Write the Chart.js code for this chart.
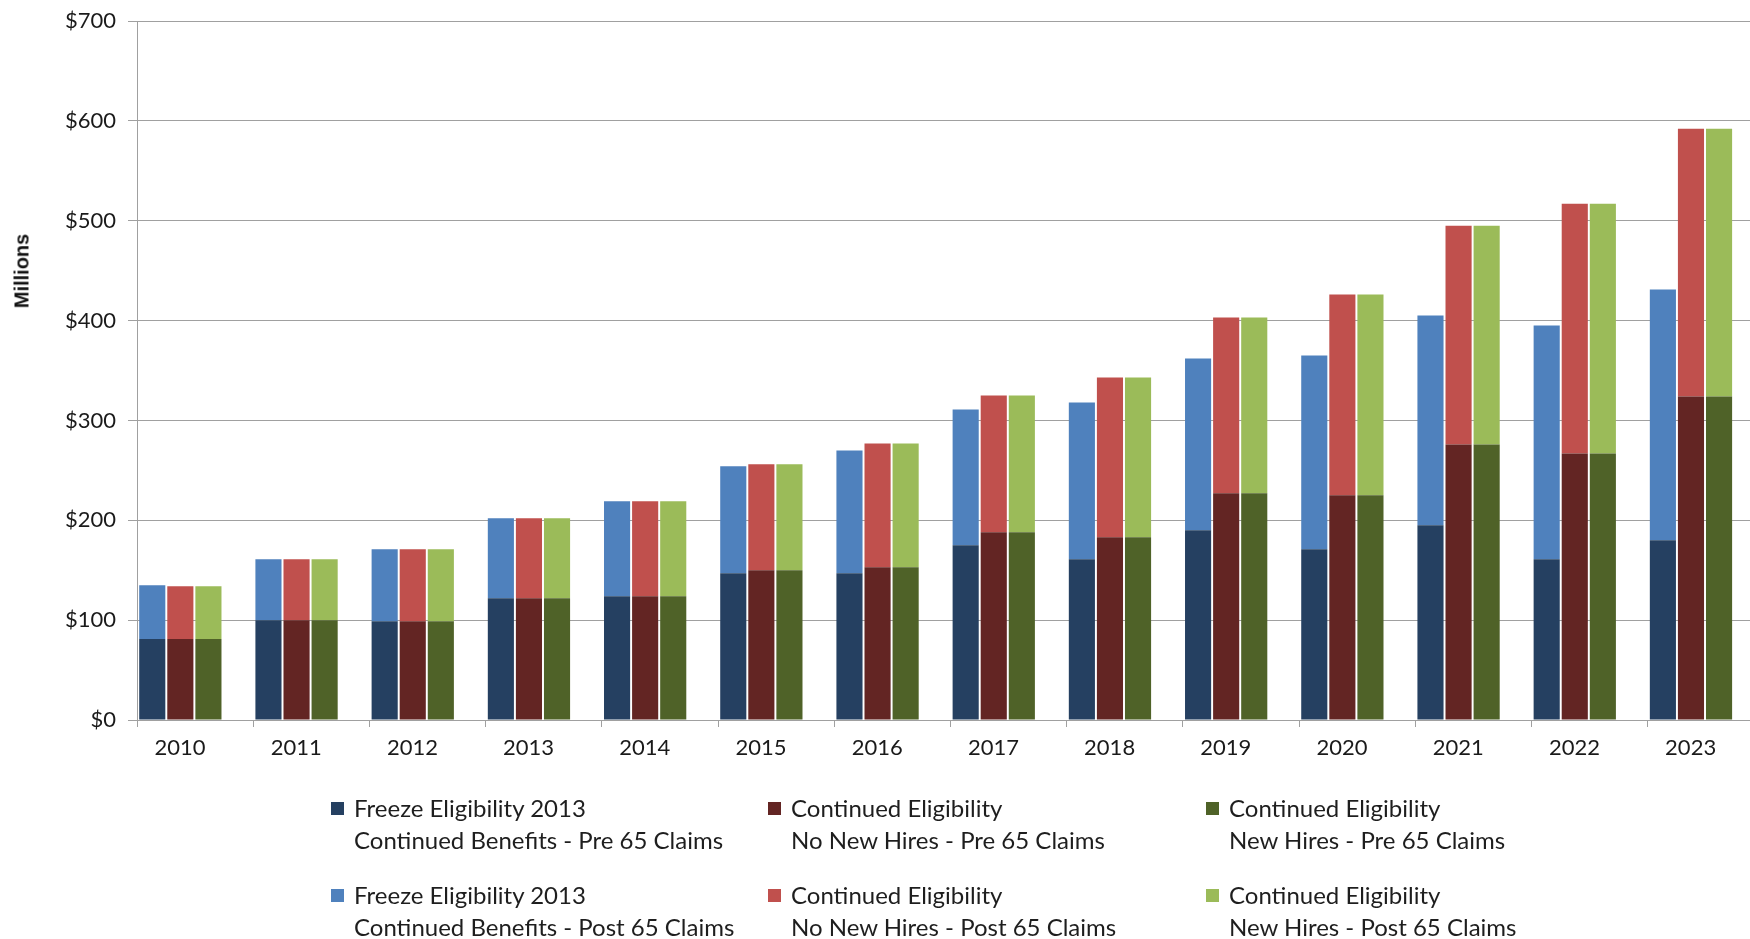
<!DOCTYPE html>
<html>
<head>
<meta charset="utf-8">
<script src="https://cdn.jsdelivr.net/npm/chart.js@4/dist/chart.umd.min.js"></script>
<style>
  html, body { margin: 0; padding: 0; background: #fff; }
  #wrap { position: relative; width: 1750px; height: 939px; overflow: hidden; }
  #chart { position: absolute; left: 0; top: 0; }
  #ytitle {
    position: absolute; left: 22px; top: 271px;
    transform: translate(-50%, -50%) rotate(-90deg);
    font: bold 20px "Liberation Sans", Arial, sans-serif; color: #111;
    white-space: nowrap;
  }
  .leg { position: absolute; font: 24px Lato, "Open Sans", sans-serif; color: #1e1e1e; line-height: 32px; white-space: nowrap; }
  .leg .sw { position: absolute; left: -23px; top: 10px; width: 13px; height: 13px; }
</style>
</head>
<body>
<div id="wrap">
  <canvas id="chart" width="1750" height="939"></canvas>
  <div id="ytitle">Millions</div>
  <div id="legend"></div>
</div>
<script>
// Years on the x axis
const years = ['2010', '2011', '2012', '2013', '2014', '2015', '2016', '2017', '2018', '2019', '2020', '2021', '2022', '2023'];

// Claims in $ millions
const freezePre = [81, 100, 99, 122, 124, 147, 147, 175, 161, 190, 171, 195, 161, 180];
const freezePost = [54, 61, 72, 80, 95, 107, 123, 136, 157, 172, 194, 210, 234, 251];
const noNewHiresPre = [81, 100, 99, 122, 124, 150, 153, 188, 183, 227, 225, 276, 267, 324];
const noNewHiresPost = [53, 61, 72, 80, 95, 106, 124, 137, 160, 176, 201, 219, 250, 268];
const newHiresPre = [81, 100, 99, 122, 124, 150, 153, 188, 183, 227, 225, 276, 267, 324];
const newHiresPost = [53, 61, 72, 80, 95, 106, 124, 137, 160, 176, 201, 219, 250, 268];

const yTicks = [0, 100, 200, 300, 400, 500, 600, 700];

// Bar groups sit left of each category in the original, so a linear x axis is used
const groupShift = 0.373;

const series = [
  { label: ['Freeze Eligibility 2013', 'Continued Benefits - Pre 65 Claims'], data: freezePre, stack: 'freeze', color: '#254061' },
  { label: ['Freeze Eligibility 2013', 'Continued Benefits - Post 65 Claims'], data: freezePost, stack: 'freeze', color: '#4f81bd' },
  { label: ['Continued Eligibility', 'No New Hires - Pre 65 Claims'], data: noNewHiresPre, stack: 'nonew', color: '#632523' },
  { label: ['Continued Eligibility', 'No New Hires - Post 65 Claims'], data: noNewHiresPost, stack: 'nonew', color: '#c0504d' },
  { label: ['Continued Eligibility', 'New Hires - Pre 65 Claims'], data: newHiresPre, stack: 'new', color: '#4f6228' },
  { label: ['Continued Eligibility', 'New Hires - Post 65 Claims'], data: newHiresPost, stack: 'new', color: '#9bbb59' }
];

const tickFont = { family: 'Lato, "Open Sans", sans-serif', size: 22 };
const gridColor = '#a0a0a0';

new Chart(document.getElementById('chart'), {
  type: 'bar',
  data: {
    datasets: series.map(s => ({
      label: s.label.join(' '),
      data: s.data.map((v, i) => ({ x: i, y: v })),
      stack: s.stack,
      backgroundColor: s.color,
      borderWidth: 0,
      categoryPercentage: 0.725,
      barPercentage: 0.93
    }))
  },
  options: {
    responsive: false,
    animation: false,
    layout: { padding: { top: 21, left: 0, right: 0, bottom: 169 } },
    plugins: { legend: { display: false }, tooltip: { enabled: false } },
    scales: {
      x: {
        type: 'linear',
        stacked: true,
        offset: false,
        min: -groupShift,
        max: 13.508,
        afterBuildTicks: (scale) => {
          scale.ticks = years.map((y, i) => ({ value: i - groupShift }));
        },
        afterFit: (scale) => { scale.height = 50; },
        grid: { offset: false, drawOnChartArea: false, drawTicks: true, tickLength: 7, color: gridColor },
        border: { color: gridColor },
        ticks: {
          autoSkip: false,
          maxRotation: 0,
          labelOffset: 43,
          padding: 8,
          color: '#1a1a1a',
          font: tickFont,
          callback: (v, i) => years[i]
        }
      },
      y: {
        stacked: true,
        min: 0,
        max: 700,
        afterBuildTicks: (scale) => {
          scale.ticks = yTicks.map(v => ({ value: v }));
        },
        afterFit: (scale) => {
          scale.width = 137;
          // let the layout padding alone decide where the plot starts
          scale.paddingTop = 0;
          scale.paddingBottom = 0;
        },
        grid: { color: gridColor, tickLength: 9 },
        border: { color: gridColor },
        ticks: {
          padding: 12,
          color: '#1a1a1a',
          font: tickFont,
          callback: (v) => '$' + v
        }
      }
    }
  }
});

// Legend: 3 columns x 2 rows, each entry on two lines
const legendPos = [
  { left: 354, top: 792 }, { left: 354, top: 879 },
  { left: 791, top: 792 }, { left: 791, top: 879 },
  { left: 1229, top: 792 }, { left: 1229, top: 879 }
];
const legend = document.getElementById('legend');
series.forEach((s, i) => {
  const d = document.createElement('div');
  d.className = 'leg';
  d.style.left = legendPos[i].left + 'px';
  d.style.top = legendPos[i].top + 'px';
  d.innerHTML = '<span class="sw" style="background:' + s.color + '"></span>' + s.label[0] + '<br>' + s.label[1];
  legend.appendChild(d);
});
</script>
</body>
</html>
